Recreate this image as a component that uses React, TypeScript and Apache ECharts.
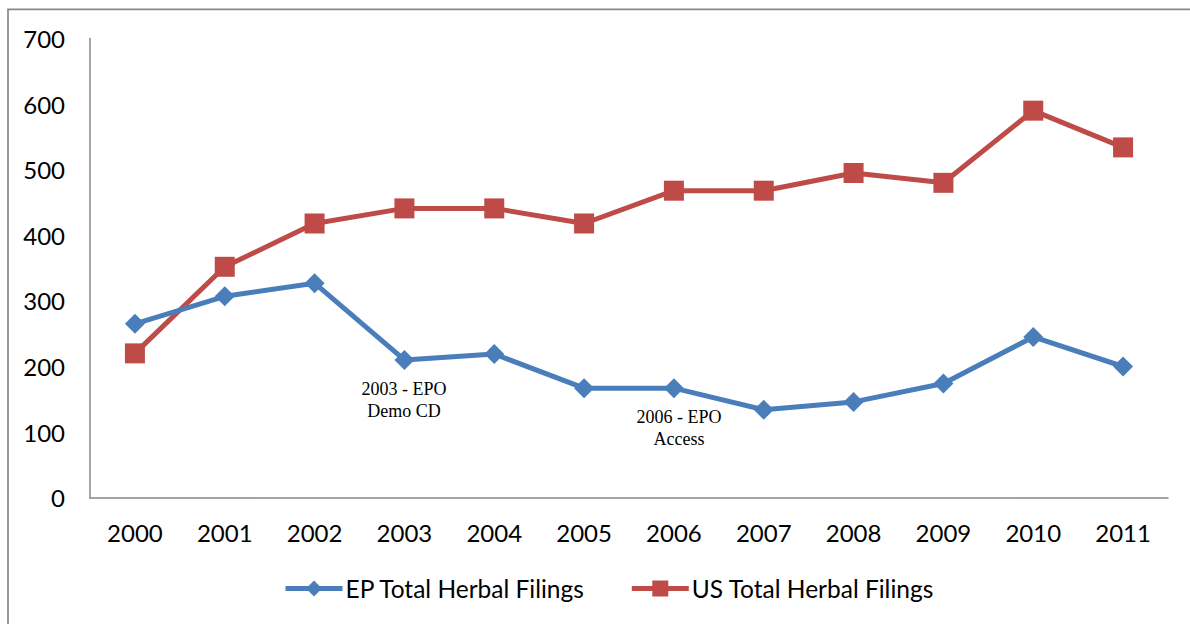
import React, { useEffect, useRef } from "react";
import * as echarts from "echarts";

const years = ["2000", "2001", "2002", "2003", "2004", "2005", "2006", "2007", "2008", "2009", "2010", "2011"];
const epFilings = [265, 307, 327, 210, 219, 167, 167, 134, 146, 174, 245, 200];
const usFilings = [220, 352, 418, 441, 441, 418, 468, 468, 495, 480, 590, 534];
const epName = "EP Total Herbal Filings";
const usName = "US Total Herbal Filings";
const annotations = ["2003 - EPO\nDemo CD", "2006 - EPO\nAccess"];

const SANS = "Lato";

export default function App() {
  const ref = useRef<HTMLDivElement>(null);
  useEffect(() => {
    if (!ref.current) return;
    const chart = echarts.init(ref.current, null, { renderer: "svg" });
    chart.setOption({
      animation: false,
      backgroundColor: "#ffffff",
      grid: { left: 90, right: 22, top: 38.5, bottom: 126.3, containLabel: false },
      xAxis: {
        type: "category",
        data: years,
        boundaryGap: true,
        axisLine: { lineStyle: { color: "#878787", width: 1.5 } },
        axisTick: { show: false },
        axisLabel: { color: "#000", fontFamily: SANS, fontSize: 24, margin: 23 },
        splitLine: { show: false },
      },
      yAxis: {
        type: "value",
        min: 0,
        max: 700,
        interval: 100,
        axisLine: { show: true, lineStyle: { color: "#878787", width: 1.5 } },
        axisTick: { show: false },
        axisLabel: { color: "#000", fontFamily: SANS, fontSize: 24, margin: 25 },
        splitLine: { show: false },
      },
      legend: {
        left: 278,
        top: 571,
        itemWidth: 57,
        itemHeight: 20,
        itemGap: 44,
        lineStyle: { width: 5 },
        textStyle: { color: "#000", fontFamily: SANS, fontSize: 24.5, padding: [0, 0, 0, -2] },
        data: [epName, usName],
      },
      series: [
        {
          name: epName,
          type: "line",
          data: epFilings,
          symbol: "diamond",
          symbolSize: 20,
          lineStyle: { color: "#4A7EBB", width: 5 },
          itemStyle: { color: "#4A7EBB" },
          z: 3,
        },
        {
          name: usName,
          type: "line",
          data: usFilings,
          symbol: "rect",
          symbolSize: 20,
          lineStyle: { color: "#BE4B48", width: 5 },
          itemStyle: { color: "#BE4B48" },
          z: 2,
        },
      ],
      graphic: [
        {
          type: "rect",
          silent: true,
          shape: { x: 8, y: 9.3, width: 1400, height: 1000 },
          style: { fill: "none", stroke: "#888888", lineWidth: 1.7 },
        },
        {
          type: "text",
          x: 404,
          y: 400,
          style: {
            text: annotations[0],
            font: '18px "Liberation Serif", "Times New Roman", serif',
            fill: "#000",
            textAlign: "center",
            textVerticalAlign: "middle",
            lineHeight: 22.7,
          },
        },
        {
          type: "text",
          x: 679,
          y: 428,
          style: {
            text: annotations[1],
            font: '18px "Liberation Serif", "Times New Roman", serif',
            fill: "#000",
            textAlign: "center",
            textVerticalAlign: "middle",
            lineHeight: 22.7,
          },
        },
      ],
    });
    return () => chart.dispose();
  }, []);
  return (
    <div
      ref={ref}
      style={{ position: "fixed", left: 0, top: 0, width: 1190, height: 624, background: "#fff" }}
    />
  );
}
